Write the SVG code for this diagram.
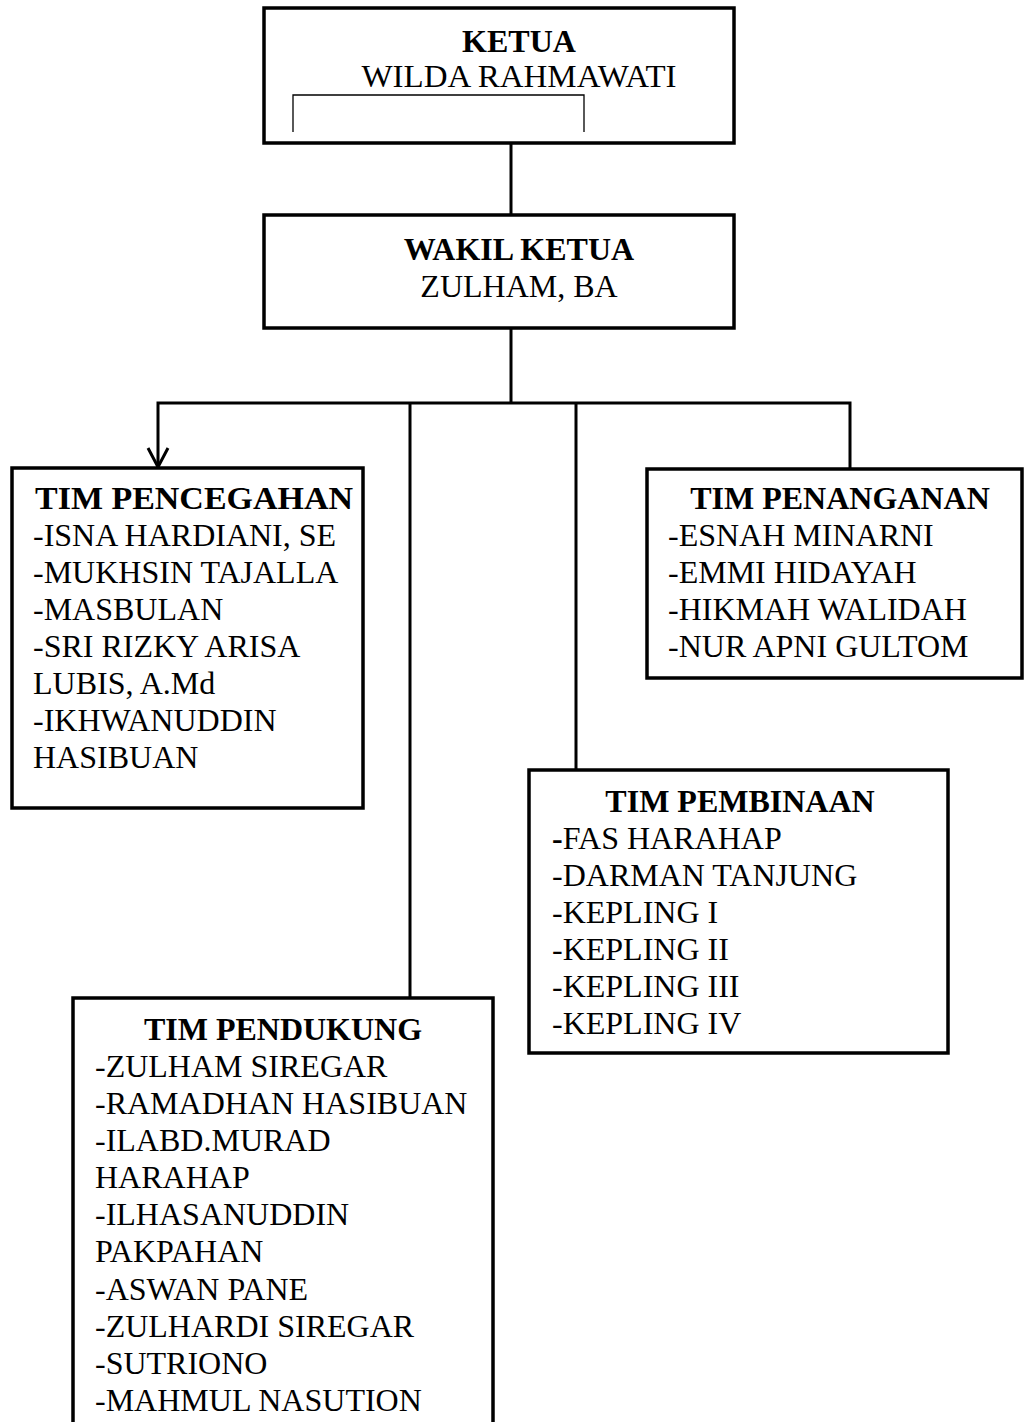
<svg xmlns="http://www.w3.org/2000/svg" width="1025" height="1422" viewBox="0 0 1025 1422">
<style>
text{font-family:"Liberation Serif","Times New Roman",serif;font-size:32px;fill:#000}
.b{font-weight:bold}
.c{text-anchor:middle}
.box{fill:#fff;stroke:#000;stroke-width:3.5}
.ln{fill:none;stroke:#000;stroke-width:3}
.thin{fill:none;stroke:#000;stroke-width:1.3}
</style>
<rect width="1025" height="1422" fill="#fff"/>
<g id="connectors">
<line class="ln" x1="511" y1="143" x2="511" y2="215"/>
<line class="ln" x1="511" y1="328" x2="511" y2="403"/>
<polyline class="ln" points="158,468 158,403 850,403 850,469"/>
<line class="ln" x1="410" y1="403" x2="410" y2="998"/>
<line class="ln" x1="576" y1="403" x2="576" y2="770"/>
<polyline class="ln" points="148,448 158,467 168,448"/>
</g>
<g id="ketua">
<rect class="box" x="264" y="8" width="470" height="135"/>
<polyline class="thin" points="293,132 293,95 584,95 584,132"/>
<text class="b c" x="519" y="52">KETUA</text>
<text class="c" x="519" y="87" textLength="315" lengthAdjust="spacingAndGlyphs">WILDA RAHMAWATI</text>
</g>
<g id="wakil">
<rect class="box" x="264" y="215" width="470" height="113"/>
<text class="b c" x="519" y="260">WAKIL KETUA</text>
<text class="c" x="519" y="297">ZULHAM, BA</text>
</g>
<g id="pencegahan">
<rect class="box" x="12" y="468" width="351" height="340"/>
<text class="b" x="35" y="509" textLength="318" lengthAdjust="spacingAndGlyphs">TIM PENCEGAHAN</text>
<text x="33" y="546">-ISNA HARDIANI, SE</text>
<text x="33" y="583">-MUKHSIN TAJALLA</text>
<text x="33" y="620">-MASBULAN</text>
<text x="33" y="657">-SRI RIZKY ARISA</text>
<text x="33" y="694">LUBIS, A.Md</text>
<text x="33" y="731">-IKHWANUDDIN</text>
<text x="33" y="768">HASIBUAN</text>
</g>
<g id="penanganan">
<rect class="box" x="647" y="469" width="375" height="209"/>
<text class="b c" x="840" y="509">TIM PENANGANAN</text>
<text x="668" y="546">-ESNAH MINARNI</text>
<text x="668" y="583">-EMMI HIDAYAH</text>
<text x="668" y="620">-HIKMAH WALIDAH</text>
<text x="668" y="657">-NUR APNI GULTOM</text>
</g>
<g id="pembinaan">
<rect class="box" x="529" y="770" width="419" height="283"/>
<text class="b c" x="740" y="812">TIM PEMBINAAN</text>
<text x="552" y="849"><tspan class="b">-</tspan>FAS HARAHAP</text>
<text x="552" y="886">-DARMAN TANJUNG</text>
<text x="552" y="923">-KEPLING I</text>
<text x="552" y="960">-KEPLING II</text>
<text x="552" y="997">-KEPLING III</text>
<text x="552" y="1034">-KEPLING IV</text>
</g>
<g id="pendukung">
<rect class="box" x="73" y="998" width="420" height="440"/>
<text class="b c" x="283" y="1040">TIM PENDUKUNG</text>
<text x="95" y="1077">-ZULHAM SIREGAR</text>
<text x="95" y="1114">-RAMADHAN HASIBUAN</text>
<text x="95" y="1151">-ILABD.MURAD</text>
<text x="95" y="1188">HARAHAP</text>
<text x="95" y="1225">-ILHASANUDDIN</text>
<text x="95" y="1262">PAKPAHAN</text>
<text x="95" y="1300">-ASWAN PANE</text>
<text x="95" y="1337">-ZULHARDI SIREGAR</text>
<text x="95" y="1374">-SUTRIONO</text>
<text x="95" y="1411">-MAHMUL NASUTION</text>
</g>
</svg>
